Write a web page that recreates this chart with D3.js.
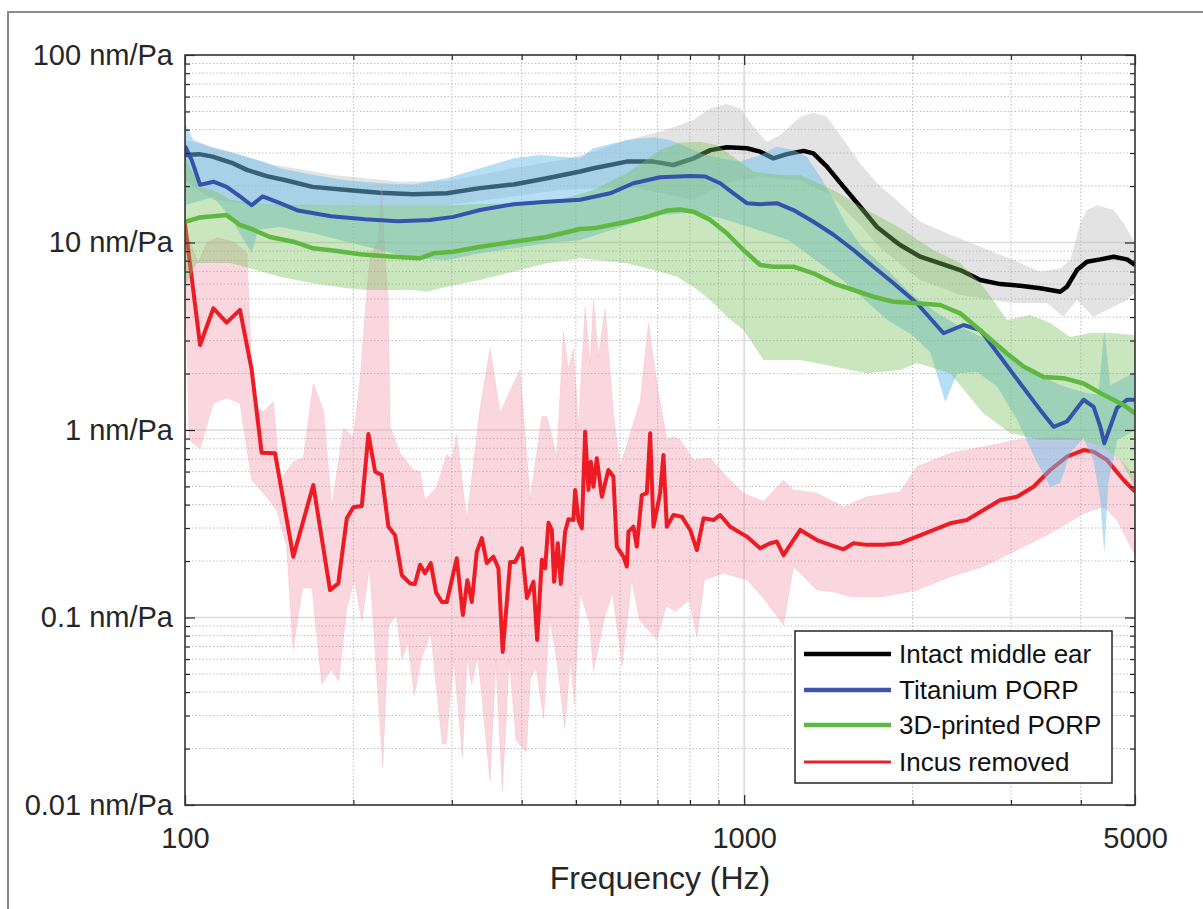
<!DOCTYPE html>
<html><head><meta charset="utf-8">
<script src="https://cdn.jsdelivr.net/npm/d3@7"></script>
<style>
html,body{margin:0;padding:0;background:#fff;}
svg{display:block;font-family:"Liberation Sans",Arial,Helvetica,sans-serif;}
</style></head>
<body>
<svg id="chart" width="1203" height="909"></svg>
<script>
// ---------- DATA ----------
const xMajor = [100, 1000, 5000];
const xMinor = [200,300,400,500,600,700,800,900,2000,3000,4000];
const yMajor = [0.01, 0.1, 1, 10, 100];
const yMinor = [0.02,0.03,0.04,0.05,0.06,0.07,0.08,0.09,0.2,0.3,0.4,0.5,0.6,0.7,0.8,0.9,2,3,4,5,6,7,8,9,20,30,40,50,60,70,80,90];
const seriesNames = ["Intact middle ear","Titanium PORP","3D-printed PORP","Incus removed"];

// Intact middle ear (mean)
const intactF = [100,106,112,122,129,140,152,169,195,223,256,294,337,387,444,509,538,617,688,747,812,870,931,1011,1068,1128,1192,1277,1330,1406,1506,1613,1728,1850,1901,2064,2242,2434,2644,2871,3117,3384,3675,3778,3937,4103,4335,4579,4837,5000];
const intactV = [29.3,29.6,28.7,26.4,24.4,22.6,21.4,19.8,19.05,18.4,18.1,18.3,19.5,20.4,22.0,23.9,24.9,27.0,27.0,25.9,28.1,31.1,32.2,31.8,30.5,28.1,29.6,30.8,29.9,25.4,19.8,15.5,12.1,10.3,9.7,8.4,7.74,7.13,6.31,6.0,5.88,5.70,5.46,5.81,7.13,7.90,8.13,8.4,8.13,7.59];
const intactUpF = [100,112,140,184,243,294,337,386,469,537,617,708,811,870,931,984,1038,1098,1160,1260,1330,1406,1506,1613,1728,1901,2064,2305,2644,3028,3384,3675,3830,3991,4103,4276,4579,4770,5000];
const intactUpV = [35.2,32.4,26.4,22.9,21.1,21.3,22.9,25.0,27.5,30.5,35.2,39.0,45.0,52.0,54.8,52.0,41.5,34.5,37.4,46.9,49.2,46.9,35.2,26.4,20.7,16.2,12.9,11.2,9.50,8.07,6.99,7.29,8.07,12.7,14.9,15.8,14.9,12.7,9.94];
const intactLoF = [100,112,148,223,294,387,469,617,708,811,931,1068,1260,1425,1613,1751,2064,2434,3028,3479,3722,3937,4211,4455,4837,5000];
const intactLoV = [21.5,16.9,15.5,15.8,15.8,17.6,19.05,19.8,18.4,16.9,20.8,22.4,21.5,17.9,12.4,9.35,6.31,5.25,4.76,4.76,4.02,4.94,4.02,4.37,4.94,5.38];

// Titanium PORP
const tiF = [100,102.8,106.4,112.4,118.7,125.4,131.6,137.6,147.9,159.3,182.4,209.9,240.4,274.4,302,337.1,386.7,443.6,508.8,575.8,633.9,707.5,800.7,851.7,906,957,1011,1068,1144,1225,1330,1445,1569,1703,1850,2037,2273,2468,2644,2871,3117,3384,3576,3778,4046,4217,4335,4406,4516,4642,4837,5000];
const tiV = [32.7,27.5,20.3,21.1,19.8,17.6,15.8,17.6,16.2,14.8,13.8,13.3,13.0,13.2,13.7,14.9,16.0,16.5,16.9,18.3,20.7,22.3,22.6,22.5,20.7,18.3,16.2,16.0,16.2,14.9,12.9,11.0,9.12,7.43,6.06,4.74,3.28,3.63,3.41,2.46,1.77,1.28,1.04,1.11,1.45,1.33,1.04,0.85,1.04,1.31,1.45,1.45];
const tiUpF = [100,103.5,112.4,120.4,129,138,147.9,169.6,194.7,223.3,256.1,293.9,337.1,386.7,431.6,508.8,537.6,617,688.4,737.2,789.8,834.5,906,983.6,1068,1144,1225,1294,1368,1445,1516,1613,1803,1998,2200,2404,2612,2836,3079,3384,3675,4041,4298,4406,4516,4706,5000];
const tiUpV = [43.2,35.2,31.8,30.5,28.7,27.0,24.9,22.9,21.5,20.7,20.4,22.0,24.9,28.1,29.3,28.1,31.8,35.2,36.4,35.2,32.4,29.9,28.1,27.0,29.3,32.4,31.1,28.7,22.4,16.9,12.7,9.7,7.13,5.25,4.26,3.63,3.21,2.84,2.36,1.96,1.74,1.59,1.54,3.41,1.74,1.85,2.04];
const tiLoF = [100,112.2,120.4,131.6,135.1,147.9,169.4,194.7,223.3,255.8,293.9,337.1,386.7,443.6,508.8,617,707.5,800.7,906,1011,1200,1500,1803,1998,2151,2289,2404,2612,2836,3079,3343,3527,3675,3830,4041,4211,4335,4406,4479,4648,5000];
const tiLoV = [15.8,17.5,13.7,8.76,11.7,12.1,11.2,10.1,9.12,8.24,8.07,8.76,9.31,9.9,10.3,12.4,14.0,14.4,13.5,12.2,10.3,6.31,3.86,3.21,2.61,1.41,2.01,2.04,1.70,1.13,0.667,0.497,0.522,0.754,0.906,0.692,0.423,0.221,0.522,0.884,1.0];

// 3D-printed PORP
const pF = [100,106.4,118.7,125.4,132.5,141.9,156.2,169.6,186.8,205.6,235.9,263.3,278.2,302,337.1,386.7,443.6,508.8,537.6,617,669.9,727.2,768.3,811.6,869.6,931.1,997,1068,1128,1225,1330,1445,1569,1703,1850,2037,2242,2434,2680,2951,3160,3431,3726,4046,4394,4770,5000];
const pV = [12.9,13.6,14.0,12.4,11.7,10.7,10.1,9.31,9.01,8.65,8.40,8.24,8.76,8.93,9.50,10.1,10.7,11.8,11.9,12.9,13.7,14.8,15.0,14.6,13.2,11.2,9.12,7.59,7.43,7.43,6.85,6.06,5.58,5.14,4.83,4.74,4.64,4.19,3.28,2.56,2.18,1.92,1.89,1.77,1.54,1.36,1.23];
const pUpF = [100,106.4,112.2,120.4,136.2,169.4,223.3,293.9,386.7,468.7,537,617,707.5,768.3,834.5,894,955.7,1038,1160,1260,1443,1658,1901,2178,2434,2644,2789,2951,3247,3527,3830,4159,4516,5000];
const pUpV = [28.6,19.8,19.05,16.9,16.0,15.8,15.8,15.8,16.2,16.9,19.05,23.4,31.1,34.1,34.5,33.1,28.7,23.9,22.9,22.9,19.05,14.9,11.95,9.12,7.78,6.08,4.94,3.86,4.11,3.72,3.13,3.29,3.29,3.21];
const pLoF = [100,104.9,120.4,147.9,169.4,194.7,211.4,255.8,270.7,293.9,337.1,386.7,443.6,508.8,617,707.5,758,810.5,869.6,931.1,997,1083,1260,1445,1658,1901,2037,2336,2676,2991,3384,4041,4388,4706,5000];
const pLoV = [5.79,7.78,7.78,6.57,6.06,5.70,5.58,5.58,5.46,5.81,6.31,6.99,7.74,8.24,7.74,6.99,6.57,5.81,4.94,4.02,3.41,2.36,2.36,2.18,2.01,2.09,2.28,2.01,1.23,0.964,0.884,0.884,0.812,0.692,0.497];

// Incus removed
const incusF = [100,106.4,112.4,118.7,125.4,131.6,137.1,144.9,156.2,169.6,181.7,188,194.7,200,207.1,212.8,218.8,224.8,231.1,237.5,244.2,252.6,257.8,263.3,268.7,275.1,281.2,287.9,293.9,306.2,314,319.9,325.8,332.5,339.5,346.5,356.1,363.5,370,381.5,389.4,400.4,408.7,420,426.4,434.7,440.6,446.7,452.9,457.2,464.2,470,478.4,485,495,498.6,505.4,512.5,519.5,526.6,531.8,537.6,545.1,556.5,571.7,583.6,591.8,608.1,617,621,633.9,642.7,656.1,669.9,679,688.4,707.5,717.2,727.2,747.2,773.6,800.7,823.1,845.8,881.4,906,944.1,1011,1068,1113,1144,1176,1209,1260,1349,1425,1506,1569,1658,1775,1901,2037,2336,2502,2680,2871,3075,3292,3527,3778,4046,4217,4455,4770,5000];
const incusV = [12.6,2.84,4.46,3.74,4.37,2.09,0.757,0.751,0.211,0.509,0.140,0.152,0.338,0.387,0.393,0.952,0.599,0.575,0.305,0.275,0.168,0.152,0.151,0.191,0.172,0.195,0.136,0.121,0.121,0.207,0.103,0.158,0.121,0.224,0.265,0.195,0.211,0.183,0.0655,0.198,0.198,0.234,0.127,0.155,0.0759,0.203,0.183,0.320,0.293,0.155,0.249,0.151,0.287,0.334,0.331,0.479,0.331,0.299,0.979,0.479,0.678,0.498,0.706,0.441,0.612,0.564,0.239,0.211,0.187,0.287,0.305,0.239,0.450,0.460,0.960,0.305,0.460,0.736,0.305,0.352,0.345,0.293,0.229,0.338,0.331,0.352,0.305,0.270,0.234,0.249,0.254,0.215,0.244,0.293,0.259,0.244,0.231,0.249,0.244,0.244,0.249,0.270,0.318,0.331,0.374,0.423,0.441,0.498,0.612,0.721,0.782,0.766,0.692,0.541,0.469];
const incusUpF = [100,105.5,109.5,114.1,121.9,129.1,132.5,138,143.9,147.9,156.2,162.8,169.6,176.8,183,192,200,205.6,211.4,214.3,221.5,224.8,228,230.8,232.7,242.5,256.1,263.3,268.7,282,293.9,300,306.2,319.1,337.1,351.3,366.1,386.7,397.6,414.3,434.7,443.6,462.3,475.1,485,495,505.4,519.5,530.2,537.6,548.8,564,583.6,600,651.6,674.4,698,727.2,747.2,768.3,811.6,869.6,931.1,997,1083,1176,1225,1349,1506,1658,1901,2037,2336,2680,3075,3626,4046,4394,4770,5000];
const incusUpV = [11.95,7.78,9.94,10.6,10.1,8.79,1.33,1.25,1.42,0.541,0.678,0.706,1.77,1.28,0.390,1.02,0.921,1.85,5.36,8.37,10.3,20.3,8.37,4.94,1.04,0.751,0.612,0.599,0.423,0.498,0.736,0.706,0.940,0.331,1.31,2.73,1.23,1.77,2.09,0.423,1.18,1.18,0.721,3.34,2.09,2.73,1.04,4.55,2.27,4.94,2.46,4.46,1.23,0.637,1.42,3.71,1.77,0.884,0.921,0.884,0.692,0.706,0.564,0.460,0.415,0.541,0.479,0.460,0.390,0.441,0.469,0.637,0.751,0.815,0.884,0.921,0.884,0.815,0.664,0.564];
const incusLoF = [100,101.7,106.4,112.4,118.7,125.4,131.6,140,145.9,152,156,162.3,168.7,175.6,182.6,188.4,194.5,200.7,207.2,213.8,225.8,231.3,238.7,244.5,250.3,257,264.5,275.1,288.4,293.1,302.4,313.5,319.5,325.6,333.9,351.3,359.6,369.4,380.1,391,407.9,414.5,424.6,438,448.4,463,477.7,489.2,496.9,508.8,529.1,537.6,563.6,581.7,605,629.4,649.4,697.5,725.2,754.3,797.4,823.1,849.3,918.6,1010,1076,1176,1225,1349,1445,1547,1775,2037,2336,2680,3075,3527,4046,4394,4642,5000];
const incusLoV = [8.07,0.884,0.799,1.39,1.48,1.39,0.541,0.441,0.374,0.239,0.0676,0.1435,0.1435,0.0441,0.0529,0.0459,0.110,0.159,0.0954,0.187,0.0159,0.0899,0.1036,0.0598,0.0733,0.0382,0.0598,0.0829,0.0212,0.0212,0.0598,0.018,0.0623,0.0441,0.0623,0.0133,0.0598,0.01176,0.0598,0.0221,0.0192,0.0469,0.054,0.0288,0.1015,0.0575,0.0255,0.0598,0.0346,0.135,0.0936,0.0519,0.1015,0.135,0.0551,0.159,0.0975,0.0763,0.115,0.108,0.124,0.0795,0.159,0.172,0.159,0.130,0.0912,0.187,0.140,0.137,0.129,0.129,0.140,0.165,0.187,0.229,0.281,0.359,0.390,0.331,0.215];

// ---------- DRAWING ----------
const svg = d3.select("#chart");
const L = 185, R = 1135, T = 55, B = 805;
const x = d3.scaleLog().domain([100, 5000]).range([L, R]);
const y = d3.scaleLog().domain([0.01, 100]).range([B, T]);
const textColor = "#262626";

// outer figure frame (top & left visible)
svg.append("path").attr("d", "M8,909 L8,12 L1203,12").attr("fill", "none")
  .attr("stroke", "#8a8a8a").attr("stroke-width", 2);

svg.append("defs").append("clipPath").attr("id", "plotclip")
  .append("rect").attr("x", L).attr("y", T).attr("width", R - L).attr("height", B - T);

// grid
const grid = svg.append("g");
grid.selectAll("line.ymin").data(yMinor).join("line")
  .attr("x1", L).attr("x2", R).attr("y1", d => y(d)).attr("y2", d => y(d))
  .attr("stroke", "#bdbdbd").attr("stroke-width", 1).attr("stroke-dasharray", "1.5,2");
grid.selectAll("line.xmin").data(xMinor).join("line")
  .attr("y1", T).attr("y2", B).attr("x1", d => x(d)).attr("x2", d => x(d))
  .attr("stroke", "#bdbdbd").attr("stroke-width", 1).attr("stroke-dasharray", "1.5,2");
grid.selectAll("line.ymaj").data(yMajor.filter(d => d > 0.01 && d < 100)).join("line")
  .attr("x1", L).attr("x2", R).attr("y1", d => y(d)).attr("y2", d => y(d))
  .attr("stroke", "#dcdcdc").attr("stroke-width", 1.6);
grid.selectAll("line.xmaj").data(xMajor.filter(d => d > 100 && d < 5000)).join("line")
  .attr("y1", T).attr("y2", B).attr("x1", d => x(d)).attr("x2", d => x(d))
  .attr("stroke", "#dcdcdc").attr("stroke-width", 1.6);

const zip = (F, V) => F.map((f, i) => [f, V[i]]);
const line = d3.line().x(d => x(d[0])).y(d => y(d[1]));
const bandPath = (uF, uV, lF, lV) => line(zip(uF, uV).concat(zip(lF, lV).reverse())) + "Z";

const plot = svg.append("g").attr("clip-path", "url(#plotclip)");

// gray band, black line
plot.append("path").attr("d", bandPath(intactUpF, intactUpV, intactLoF, intactLoV))
  .attr("fill", "#bdbdbd").attr("fill-opacity", 0.42).attr("stroke", "none");
plot.append("path").attr("d", line(zip(intactF, intactV)))
  .attr("fill", "none").attr("stroke", "#000").attr("stroke-width", 4.5).attr("stroke-linejoin", "round");

// pink band, red line
plot.append("path").attr("d", bandPath(incusUpF, incusUpV, incusLoF, incusLoV))
  .attr("fill", "#f08ca0").attr("fill-opacity", 0.35).attr("stroke", "#f08ca0").attr("stroke-opacity", 0.25).attr("stroke-width", 0.8);
plot.append("path").attr("d", line(zip(incusF, incusV)))
  .attr("fill", "none").attr("stroke", "#ed1c24").attr("stroke-width", 4).attr("stroke-linejoin", "round");

// blue band, green band
plot.append("path").attr("d", bandPath(tiUpF, tiUpV, tiLoF, tiLoV))
  .attr("fill", "#6ebeeb").attr("fill-opacity", 0.5).attr("stroke", "none");
plot.append("path").attr("d", bandPath(pUpF, pUpV, pLoF, pLoV))
  .attr("fill", "#78c060").attr("fill-opacity", 0.4).attr("stroke", "none");

// blue & green lines
plot.append("path").attr("d", line(zip(tiF, tiV)))
  .attr("fill", "none").attr("stroke", "#3653ab").attr("stroke-width", 4).attr("stroke-linejoin", "round");
plot.append("path").attr("d", line(zip(pF, pV)))
  .attr("fill", "none").attr("stroke", "#5fb941").attr("stroke-width", 4.5).attr("stroke-linejoin", "round");

// axes
function styleAxis(g) {
  g.select(".domain").remove();
  g.attr("color", textColor).attr("font-size", null).attr("font-family", null);
  g.selectAll("text").attr("font-size", 29).attr("fill", textColor);
  g.selectAll("line").attr("stroke-width", 1.2);
}
svg.append("g").attr("transform", `translate(0,${B})`)
  .call(d3.axisBottom(x).tickValues(xMajor).tickSize(-10).tickPadding(22).tickFormat(d3.format("d"))).call(styleAxis);
svg.append("g").attr("transform", `translate(0,${B})`)
  .call(d3.axisBottom(x).tickValues(xMinor).tickSize(-5).tickFormat("")).call(styleAxis);
svg.append("g").attr("transform", `translate(0,${T})`)
  .call(d3.axisTop(x).tickValues(xMajor).tickSize(-10).tickFormat("")).call(styleAxis);
svg.append("g").attr("transform", `translate(0,${T})`)
  .call(d3.axisTop(x).tickValues(xMinor).tickSize(-5).tickFormat("")).call(styleAxis);
svg.append("g").attr("transform", `translate(${L},0)`)
  .call(d3.axisLeft(y).tickValues(yMajor).tickSize(-10).tickPadding(12).tickFormat(d => d + " nm/Pa")).call(styleAxis);
svg.append("g").attr("transform", `translate(${L},0)`)
  .call(d3.axisLeft(y).tickValues(yMinor).tickSize(-5).tickFormat("")).call(styleAxis);
svg.append("g").attr("transform", `translate(${R},0)`)
  .call(d3.axisRight(y).tickValues(yMajor).tickSize(-10).tickFormat("")).call(styleAxis);
svg.append("g").attr("transform", `translate(${R},0)`)
  .call(d3.axisRight(y).tickValues(yMinor).tickSize(-5).tickFormat("")).call(styleAxis);

// axes box
svg.append("rect").attr("x", L).attr("y", T).attr("width", R - L).attr("height", B - T)
  .attr("fill", "none").attr("stroke", "#333").attr("stroke-width", 1.6);

// x label
svg.append("text").attr("x", (L + R) / 2).attr("y", 889).attr("text-anchor", "middle")
  .attr("font-size", 32).attr("fill", textColor).text("Frequency (Hz)");

// legend
const legColors = ["#000000", "#3b56aa", "#5eb944", "#e9232a"];
const legWidths = [4.5, 4.5, 4.5, 3];
const legY = [654, 690, 725, 762];
const leg = svg.append("g");
leg.append("rect").attr("x", 795).attr("y", 631).attr("width", 317).attr("height", 152)
  .attr("fill", "#fff").attr("stroke", "#262626").attr("stroke-width", 1.5);
const items = leg.selectAll("g.item").data(seriesNames).join("g");
items.append("line").attr("x1", 804).attr("x2", 891)
  .attr("y1", (d, i) => legY[i]).attr("y2", (d, i) => legY[i])
  .attr("stroke", (d, i) => legColors[i]).attr("stroke-width", (d, i) => legWidths[i]);
items.append("text").attr("x", 899).attr("y", (d, i) => legY[i] + 9.3)
  .attr("font-size", 26).attr("fill", "#111").text(d => d);
</script>
</body></html>
